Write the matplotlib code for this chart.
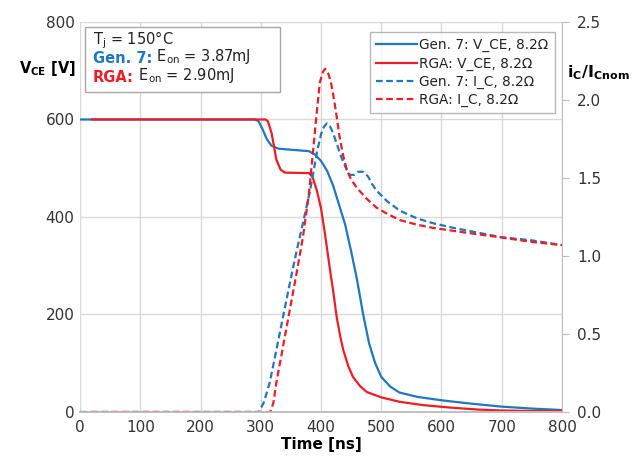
import matplotlib
matplotlib.use("Agg")
import matplotlib.pyplot as plt
import matplotlib.patches as mpatches

# ── Data ─────────────────────────────────────────────────
gen7_vce_t = [0, 290, 296, 303, 310, 318, 330, 360, 380, 390, 400, 410, 420, 430,
              440, 450, 460, 470, 480, 490, 500, 515, 530, 560, 600, 650, 700, 750, 800]
gen7_vce = [600, 600, 597, 580, 560, 546, 540, 537, 535, 528, 515, 495, 465, 425,
            385, 330, 270, 200, 140, 100, 72, 52, 40, 31, 24, 17, 11, 7, 4]

rga_vce_t = [20, 308, 312, 318, 326, 333, 340, 380, 386, 393, 400, 407, 415, 420,
             426, 432, 437, 445, 453, 465, 476, 500, 530, 570, 615, 660, 700, 750, 800]
rga_vce = [600, 600, 596, 572, 517, 497, 491, 490, 482, 455, 418, 362, 291, 250,
           195, 155, 127, 95, 72, 53, 41, 30, 21, 14, 9, 5, 3, 2, 2]

gen7_ic_t = [0, 297, 305, 315, 325, 337, 348, 360, 370, 382, 393, 400, 405, 410,
             415, 420, 426, 435, 443, 448, 455, 462, 470, 478, 485, 492, 510, 531,
             560, 586, 620, 660, 700, 750, 800]
gen7_ic = [0, 0, 0.06, 0.19, 0.38, 0.61, 0.82, 1.04, 1.21, 1.42, 1.66, 1.78, 1.83, 1.85,
           1.83, 1.79, 1.72, 1.62, 1.55, 1.52, 1.52, 1.54, 1.54, 1.51, 1.46, 1.42, 1.35, 1.29,
           1.24, 1.21, 1.18, 1.15, 1.12, 1.10, 1.07]

rga_ic_t = [20, 316, 321, 326, 337, 348, 359, 370, 380, 387, 393, 398, 403, 407,
            412, 416, 420, 425, 431, 437, 443, 450, 459, 475, 492, 510, 531, 560,
            586, 640, 697, 750, 800]
rga_ic = [0, 0, 0.06, 0.19, 0.42, 0.65, 0.88, 1.12, 1.40, 1.68, 1.92, 2.11, 2.18, 2.20,
          2.17, 2.12, 2.04, 1.92, 1.76, 1.64, 1.55, 1.49, 1.44, 1.37, 1.31, 1.27, 1.23, 1.20,
          1.18, 1.15, 1.12, 1.09, 1.07]

x_ticks = [0, 100, 200, 300, 400, 500, 600, 700, 800]
v_ticks = [0, 200, 400, 600, 800]
i_ticks = [0.0, 0.5, 1.0, 1.5, 2.0, 2.5]

BLUE = "#1f77c4"
RED = "#ee1c25"
GRID = "#d9d9d9"

fig = plt.figure(figsize=(6.33, 4.57), dpi=100)
ax = fig.add_axes([0.1264, 0.0985, 0.7614, 0.8534])
ax2 = ax.twinx()

# ── Curves ──
l1, = ax.plot(gen7_vce_t, gen7_vce, color=BLUE, lw=1.6, label="Gen. 7: V_CE, 8.2Ω")
l2, = ax.plot(rga_vce_t, rga_vce, color=RED, lw=1.6, label="RGA: V_CE, 8.2Ω")
l3, = ax2.plot(gen7_ic_t, gen7_ic, color=BLUE, lw=1.6, ls=(0, (3, 1.6)),
               label="Gen. 7: I_C, 8.2Ω")
l4, = ax2.plot(rga_ic_t, rga_ic, color=RED, lw=1.6, ls=(0, (3, 1.6)),
               label="RGA: I_C, 8.2Ω")

# ── Axes styling ──
ax.set_xlim(0, 800)
ax.set_ylim(0, 800)
ax2.set_ylim(0, 2.5)
ax.set_xticks(x_ticks)
ax.set_yticks(v_ticks)
ax2.set_yticks(i_ticks)
ax2.set_yticklabels([f"{v:.1f}" for v in i_ticks])
ax.grid(True, color=GRID, lw=1.0)
ax.set_axisbelow(True)

for a in (ax, ax2):
    for s in ("top", "left", "right"):
        a.spines[s].set_visible(False)
    a.spines["bottom"].set_color("#bfbfbf")
    a.spines["bottom"].set_linewidth(1.2)
ax2.spines["right"].set_visible(True)
ax2.spines["right"].set_color("#bfbfbf")

ax.tick_params(axis="both", length=0, labelsize=11, colors="#333333", pad=6)
ax.tick_params(axis="y", pad=4)
ax2.tick_params(axis="y", length=5, color="#bfbfbf", labelsize=11,
                labelcolor="#333333", pad=6)

ax.set_xlabel("Time [ns]", fontsize=11, fontweight="bold", labelpad=1)

fig.text(0.03, 0.851, r"$\mathbf{V}_{\mathbf{CE}}$ [V]", fontsize=10.5,
         fontweight="bold", ha="left", va="center")
fig.text(0.896, 0.842, r"$\mathbf{i_C/I_{Cnom}}$", fontsize=11.5,
         family="DejaVu Serif", ha="left", va="center")

# ── Info box ──
box = mpatches.Rectangle((0.0104, 0.8205), 0.405, 0.1665, transform=ax.transAxes,
                         facecolor="white", edgecolor="#a6a6a6", lw=1.0, zorder=5)
ax.add_patch(box)
tkw = dict(transform=ax.transAxes, fontsize=10.5, va="baseline", zorder=6,
           color="#222222")
ax.text(0.027, 0.944, r"T$_\mathregular{j}$ = 150°C", **tkw)
g = ax.text(0.027, 0.895, "Gen. 7:", **{**tkw, "color": BLUE}, fontweight="bold")
ax.annotate(r" E$_\mathregular{on}$ = 3.87mJ", xy=(1, 0), xycoords=g,
            va="bottom", fontsize=10.5, color="#222222", zorder=6,
            annotation_clip=False)
r = ax.text(0.027, 0.846, "RGA:", **{**tkw, "color": RED}, fontweight="bold")
ax.annotate(r" E$_\mathregular{on}$ = 2.90mJ", xy=(1, 0), xycoords=r,
            va="bottom", fontsize=10.5, color="#222222", zorder=6,
            annotation_clip=False)

# ── Legend ──
leg = ax2.legend(handles=[l1, l2, l3, l4], loc="upper right",
                 bbox_to_anchor=(0.985, 0.974), fontsize=9.8, frameon=True,
                 fancybox=False, edgecolor="#a6a6a6", handlelength=3.0,
                 handletextpad=0.2, labelspacing=0.3, borderpad=0.45,
                 borderaxespad=0)
leg.get_frame().set_linewidth(1.0)
for t in leg.get_texts():
    t.set_color("#222222")

fig.savefig("out.png", dpi=100)
